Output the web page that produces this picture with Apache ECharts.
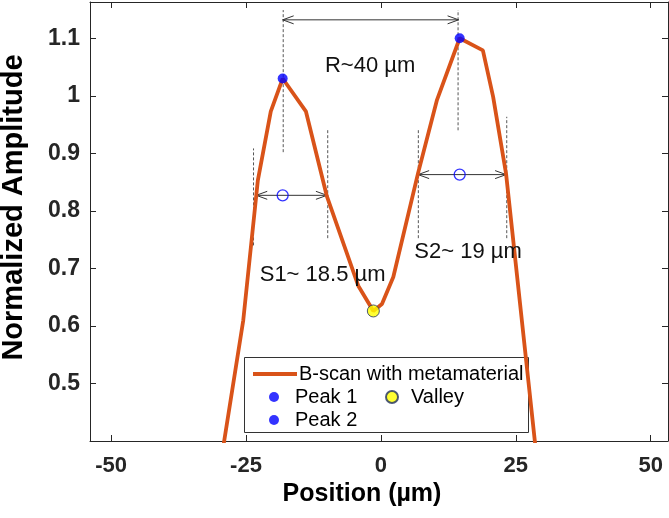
<!DOCTYPE html>
<html><head><meta charset="utf-8">
<script src="https://cdn.jsdelivr.net/npm/echarts@6/dist/echarts.min.js"></script>
<style>html,body{margin:0;padding:0;background:#fff}#c{width:669px;height:518px}</style>
</head><body><div id="c"></div>
<script>
// ---- data ----
const positionUm = [-30.2, -25.5, -22.8, -20.4, -18.2, -13.9, -10.0, -4.2, -1.4, 0.2, 2.3, 6.9, 10.4, 14.6, 18.9, 20.8, 23.2, 29.5];
const amplitude  = [0.331, 0.61, 0.853, 0.973, 1.03, 0.973, 0.825, 0.670, 0.626, 0.638, 0.685, 0.866, 0.993, 1.100, 1.079, 0.998, 0.864, 0.315];
const peak1 = [-18.2, 1.03];
const peak2 = [14.6, 1.10];
const valley = [-1.4, 0.626];
const widthCenters = [[-18.2, 0.827], [14.6, 0.863]];
// arrows: [xStart, xEnd, y]
const arrows = [[-18.2, 14.4, 1.132], [-23.1, -10.0, 0.827], [6.9, 23.2, 0.863]];
// dashed guides: [x, yLow, yHigh]
const guides = [[-18.1, 0.902, 1.149], [14.3, 0.94, 1.149], [-23.6, 0.740, 0.9085], [-9.85, 0.7525, 0.9404], [6.94, 0.7525, 0.9404], [23.32, 0.7525, 0.9635]];
const annText = ['R~40 µm', 'S1~ 18.5 µm', 'S2~ 19 µm'];
const annX = [-2.0, -10.8, 16.15];
const annY = [1.052, 0.688, 0.729];
const xTicks = [-50, -25, 0, 25, 50];
const yTicks = [0.5, 0.6, 0.7, 0.8, 0.9, 1.0, 1.1];

const axisColor = '#262626';
const FONT = 'Liberation Sans, Arial, sans-serif';
const chart = echarts.init(document.getElementById('c'), null, {renderer: 'canvas'});
const baseX = {type: 'value', min: -53.9, max: 53.2, splitLine: {show: false}};
const baseY = {type: 'value', min: 0.4, max: 1.163, splitLine: {show: false}};
chart.setOption({
  animation: false,
  backgroundColor: '#fff',
  grid: {left: 90, right: 1, top: 2, bottom: 77, containLabel: false, outerBoundsMode: 'none'},
  xAxis: [
    Object.assign({}, baseX, {
      position: 'bottom',
      axisLine: {show: true, onZero: false, lineStyle: {color: axisColor, width: 1}},
      axisTick: {show: true, inside: true, length: 6, customValues: xTicks, lineStyle: {color: axisColor}},
      axisLabel: {show: true, customValues: xTicks, margin: 14, color: axisColor, fontSize: 22, fontWeight: 'bold', fontFamily: FONT},
      name: 'Position (µm)', nameLocation: 'middle', nameGap: 38,
      nameTextStyle: {color: '#000', fontSize: 25, fontWeight: 'bold', fontFamily: FONT, padding: [0, 34, 0, 0]}
    }),
    Object.assign({}, baseX, {
      position: 'top',
      axisLine: {show: true, onZero: false, lineStyle: {color: axisColor, width: 1}},
      axisTick: {show: true, inside: true, length: 6, customValues: xTicks, lineStyle: {color: axisColor}},
      axisLabel: {show: false}
    })
  ],
  yAxis: [
    Object.assign({}, baseY, {
      position: 'left',
      axisLine: {show: true, onZero: false, lineStyle: {color: axisColor, width: 1}},
      axisTick: {show: true, inside: true, length: 6, customValues: yTicks, lineStyle: {color: axisColor}},
      axisLabel: {show: true, customValues: yTicks, margin: 10, color: axisColor, fontSize: 23, fontWeight: 'bold', fontFamily: FONT},
      name: 'Normalized Amplitude', nameLocation: 'middle', nameGap: 62, nameRotate: 90,
      nameTextStyle: {color: '#000', fontSize: 29, fontWeight: 'bold', fontFamily: FONT, padding: [0, 0, 0, 28]}
    }),
    Object.assign({}, baseY, {
      position: 'right',
      axisLine: {show: true, onZero: false, lineStyle: {color: axisColor, width: 1}},
      axisTick: {show: true, inside: true, length: 6, customValues: yTicks, lineStyle: {color: axisColor}},
      axisLabel: {show: false}
    })
  ],
  legend: [
    {data: [{name: 'B-scan with metamaterial', icon: 'rect', itemStyle: {color: '#D95319'}}], left: 248, top: 359, itemWidth: 44, itemHeight: 4, itemGap: 0,
     textStyle: {fontSize: 20, lineHeight: 20, color: '#000', fontFamily: FONT, padding: [0, 0, 0, -3]}},
    {data: ['Peak 1', 'Peak 2'], orient: 'vertical', left: 264, top: 382, itemWidth: 10, itemHeight: 10, itemGap: 3,
     textStyle: {fontSize: 20, lineHeight: 20, color: '#000', fontFamily: FONT, padding: [0, 0, 0, 11]}},
    {data: ['Valley'], left: 380, top: 382, itemWidth: 12, itemHeight: 12, itemGap: 0,
     textStyle: {fontSize: 20, lineHeight: 20, color: '#000', fontFamily: FONT, padding: [0, 0, 0, 8]}}
  ],
  graphic: [
    {type: 'rect', left: 244, top: 357, shape: {width: 284, height: 75}, style: {fill: '#fff', stroke: '#333', lineWidth: 1}, z: 3}
  ],
  series: [
    {name: 'B-scan with metamaterial', type: 'line', data: positionUm.map((x, i) => [x, amplitude[i]]),
     symbol: 'none', clip: true, lineStyle: {color: '#D95319', width: 3.8}, itemStyle: {color: '#D95319'}, z: 5},
    {name: 'guides', type: 'custom', data: guides, z: 4, silent: true,
     renderItem: function (params, api) {
       const a = api.coord([api.value(0), api.value(1)]);
       const b = api.coord([api.value(0), api.value(2)]);
       return {type: 'line', shape: {x1: a[0], y1: a[1], x2: b[0], y2: b[1]},
               style: {stroke: '#555', lineWidth: 1, lineDash: [3, 2]}};
     }},
    {name: 'arrows', type: 'custom', data: arrows, z: 4, silent: true,
     renderItem: function (params, api) {
       const p1 = api.coord([api.value(0), api.value(2)]);
       const p2 = api.coord([api.value(1), api.value(2)]);
       const st = {stroke: '#333', lineWidth: 1, fill: null};
       return {type: 'group', children: [
         {type: 'line', shape: {x1: p1[0], y1: p1[1], x2: p2[0], y2: p2[1]}, style: st},
         {type: 'polyline', shape: {points: [[p1[0] + 11, p1[1] - 4], p1, [p1[0] + 11, p1[1] + 4]]}, style: st},
         {type: 'polyline', shape: {points: [[p2[0] - 11, p2[1] - 4], p2, [p2[0] - 11, p2[1] + 4]]}, style: st}
       ]};
     }},
    {name: 'centers', type: 'scatter', data: widthCenters, symbol: 'circle', symbolSize: 11,
     itemStyle: {color: 'rgba(0,0,0,0)', borderColor: '#0000ff', borderWidth: 1.3}, z: 6},
    {name: 'Peak 1', type: 'scatter', data: [peak1], symbol: 'circle', symbolSize: 10, itemStyle: {color: '#0000ff'}, z: 7},
    {name: 'Peak 2', type: 'scatter', data: [peak2], symbol: 'circle', symbolSize: 10, itemStyle: {color: '#0000ff'}, z: 7},
    {name: 'Valley', type: 'scatter', data: [valley], symbol: 'circle', symbolSize: 12,
     itemStyle: {color: '#ffff00', borderColor: '#1f2f5f', borderWidth: 1}, z: 7},
    {name: 'annotations', type: 'custom', data: annX.map((x, i) => [x, annY[i], i]), z: 8, silent: true,
     renderItem: function (params, api) {
       const p = api.coord([api.value(0), api.value(1)]);
       return {type: 'text', x: p[0], y: p[1],
               style: {text: annText[api.value(2)], fill: '#111', fontSize: 22, fontFamily: FONT, align: 'center', verticalAlign: 'middle'}};
     }}
  ]
});
</script></body></html>
